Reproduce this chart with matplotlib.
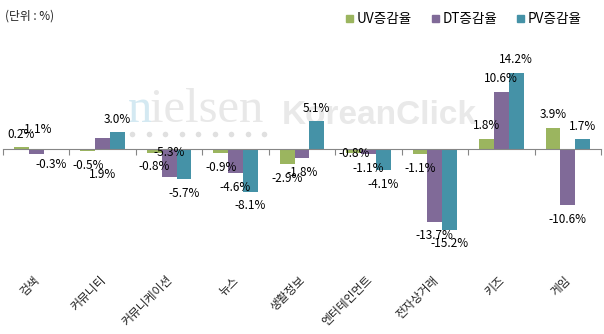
import matplotlib
matplotlib.use('Agg')
from matplotlib import pyplot as plt
from matplotlib.patches import Patch
from matplotlib.lines import Line2D
import numpy as np

plt.rcParams['font.family'] = ['Noto Sans CJK KR', 'DejaVu Sans']

# categories and series values (%)
categories = ['검색', '커뮤니티', '커뮤니케이션', '뉴스', '생활정보',
              '엔터테인먼트', '전자상거래', '키즈', '게임']
series_names = ['UV증감율', 'DT증감율', 'PV증감율']
uv = [0.2, -0.5, -0.8, -0.9, -2.9, -0.8, -1.1, 1.8, 3.9]
dt = [-1.1, 1.9, -5.3, -4.6, -1.8, -1.1, -13.7, 10.6, -10.6]
pv = [-0.3, 3.0, -5.7, -8.1, 5.1, -4.1, -15.2, 14.2, 1.7]

colors = ['#9BB55F', '#806A98', '#4592A7']

# a few data labels sit away from their bar in the original chart
# (series index, category index) -> label centre in data units
label_moved = {(1, 0): 3.6, (1, 1): -4.9, (1, 2): -0.75, (0, 5): -0.95}

fig = plt.figure(figsize=(6.04, 3.34), dpi=100)
ax = fig.add_axes([3/604, 0.235, 598/604, 0.6407])
ax.patch.set_visible(False)

x = np.arange(len(categories))
bw = 0.2227
all_vals = [uv, dt, pv]

for si, vals in enumerate(all_vals):
    offs = (si - 1) * bw
    ax.bar(x + offs, vals, width=bw, color=colors[si], zorder=3)
    for ci, v in enumerate(vals):
        txt = '%.1f%%' % v
        if (si, ci) in label_moved:
            ax.text(x[ci] + offs, label_moved[(si, ci)], txt, ha='center',
                    va='center', fontsize=8.5, color='black', zorder=5)
        else:
            dy = 13 if v >= 0 else -14
            ax.annotate(txt, (x[ci] + offs, v), xytext=(0, dy),
                        textcoords='offset pixels', ha='center', va='center',
                        fontsize=8.5, color='black', zorder=5)

ax.set_xlim(-0.5, len(categories) - 0.5)
ax.set_ylim(-20, 20)

for s in ['top', 'right', 'left']:
    ax.spines[s].set_visible(False)
ax.spines['bottom'].set_position(('data', 0))
ax.spines['bottom'].set_color('#868686')
ax.spines['bottom'].set_zorder(4)
ax.set_yticks([])
ax.set_xticks(np.arange(len(categories) + 1) - 0.5)
ax.set_xticklabels([])
ax.tick_params(axis='x', length=4, color='#868686', direction='out')

# category labels, rotated
trans = matplotlib.transforms.blended_transform_factory(ax.transData, ax.transAxes)
for ci, c in enumerate(categories):
    ax.text(ci + 0.02, -0.105, c, transform=trans, rotation=45,
            rotation_mode='anchor', ha='right', va='center', fontsize=8.5,
            color='#222222')

# watermark (behind the bars)
fig.text(128/604, 1 - 122/334, 'n', family='Liberation Serif', fontsize=35,
         color='#d4e9f2', va='baseline', ha='left', zorder=-1)
fig.text(150/604, 1 - 122/334, 'ielsen', family='Liberation Serif', fontsize=35,
         color='#e8e8e8', va='baseline', ha='left', zorder=-1)
fig.text(282/604, 1 - 124/334, 'KoreanClick', family='Liberation Sans',
         fontweight='bold', fontsize=24, color='#e9e9e9', va='baseline',
         ha='left', zorder=-1)
dot_x = [(132 + k * 16.5) / 604 for k in range(9)]
fig.add_artist(Line2D(dot_x, [1 - 134/334] * 9, ls='none', marker='o',
                      ms=4, color='#e0e0e0', mec='none',
                      transform=fig.transFigure, zorder=-1))

fig.text(5/604, 1 - 16/334, '(단위 : %)', fontsize=8.5, va='center',
         ha='left', color='#222222')

handles = [Patch(color=colors[i], label=series_names[i]) for i in range(3)]
fig.legend(handles=handles, loc='upper right', bbox_to_anchor=(0.984, 1.0),
           ncol=3, frameon=False, fontsize=9.8, handlelength=0.5,
           handleheight=0.5, handletextpad=0.3, columnspacing=1.45)

fig.savefig('out.png', dpi=100)
